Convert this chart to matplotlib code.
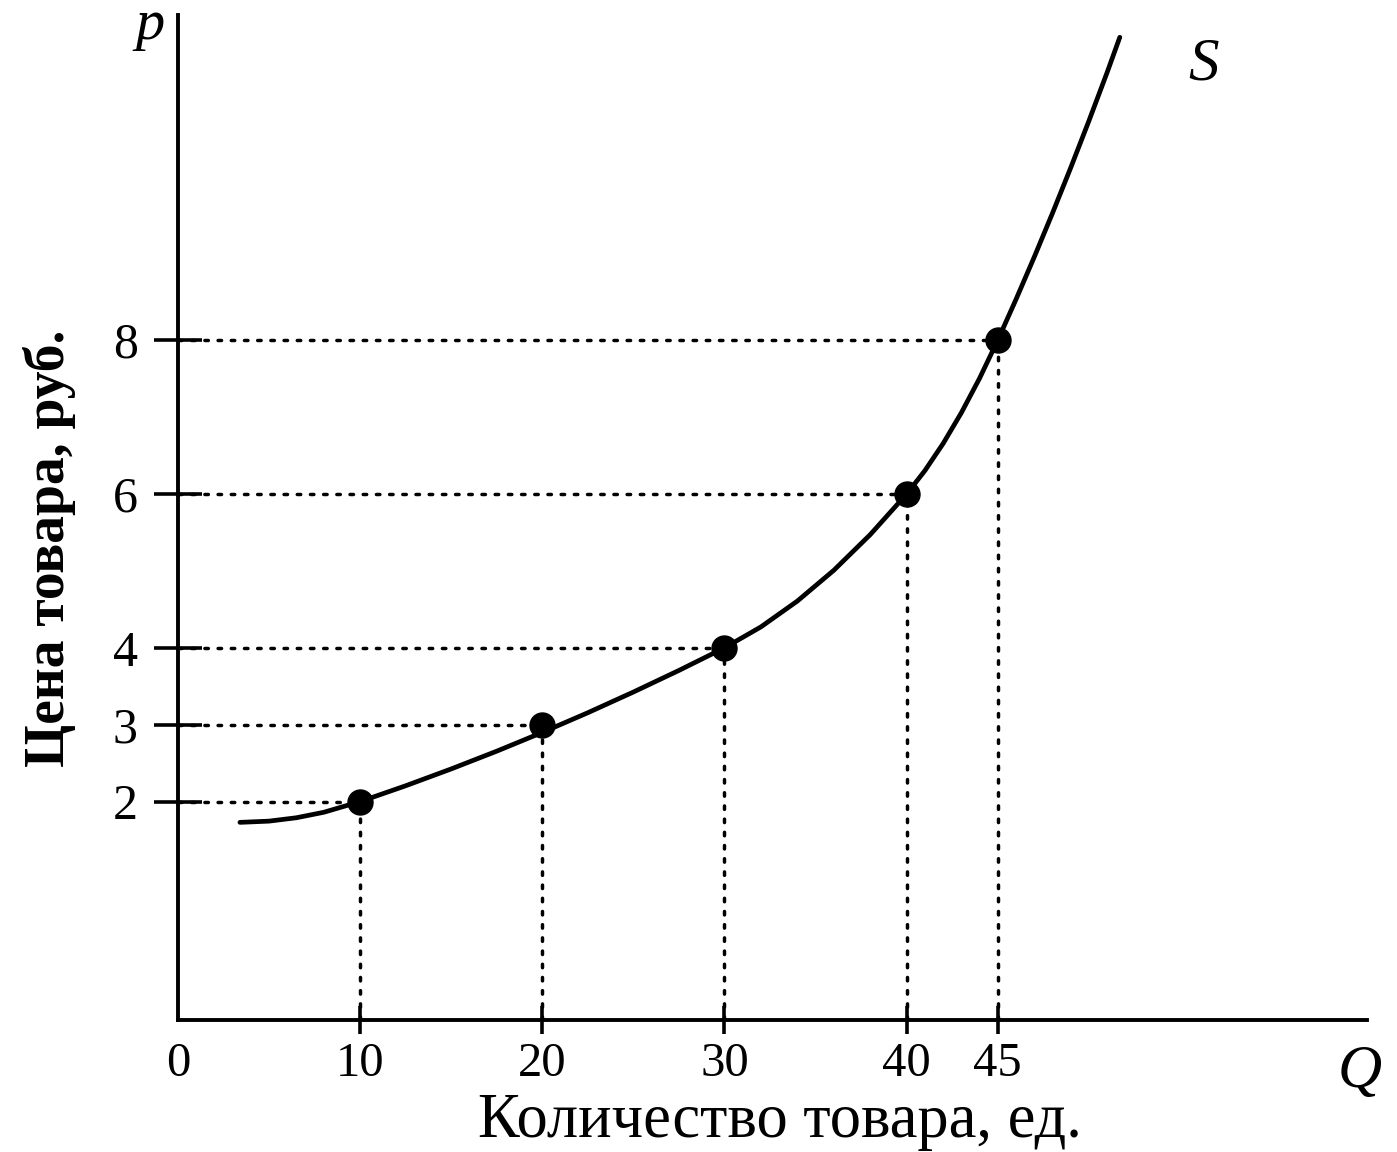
import matplotlib
matplotlib.use("Agg")
import matplotlib.pyplot as plt

# точки предложения (количество, цена)
q_points = [10, 20, 30, 40, 45]
p_points = [2, 3, 4, 6, 8]

# кривая S
curve_q = [3.4, 5, 6.5, 8, 10, 12.5, 15, 17.5, 20, 22.5, 25, 27.5, 30, 32, 34, 36, 38,
           40, 41, 42, 43, 44, 45, 46, 47, 48, 49, 50, 51, 51.7]
curve_p = [1.73, 1.746, 1.79, 1.861, 2.0, 2.206, 2.425, 2.656, 2.9, 3.156, 3.425, 3.706,
           4.0, 4.272, 4.608, 5.008, 5.472, 6.0, 6.304, 6.656, 7.056, 7.504, 8.0, 8.53,
           9.08, 9.65, 10.24, 10.85, 11.48, 11.94]

x_ticks = [0, 10, 20, 30, 40, 45]
y_ticks = [2, 3, 4, 6, 8]

x_lim = (0, 65.26)
y_lim = (-0.84, 12.23)

plt.rcParams['font.family'] = ['Liberation Serif', 'DejaVu Serif']

fig = plt.figure(figsize=(13.97, 11.52), dpi=100)
ax = fig.add_axes([0.1274, 0.1146, 0.851, 0.8724])
ax.set_xlim(*x_lim)
ax.set_ylim(*y_lim)

for s in ['top', 'right']:
    ax.spines[s].set_visible(False)
for s in ['left', 'bottom']:
    ax.spines[s].set_linewidth(2.8)

# пунктирные проекции
dots = (0, (1, 2.8))
for q, p in zip(q_points, p_points):
    ax.plot([0, q], [p, p], color='black', lw=2.5, linestyle=dots, dash_capstyle='round')
    ax.plot([q, q], [y_lim[0], p], color='black', lw=2.5, linestyle=dots, dash_capstyle='round')

ax.plot(curve_q, curve_p, color='black', lw=3.4, solid_capstyle='round',
        solid_joinstyle='round')
ax.plot(q_points, p_points, 'o', color='black', markersize=18, zorder=5)

ax.set_xticks(x_ticks)
ax.set_yticks(y_ticks)
ax.tick_params(axis='y', direction='inout', length=34, width=2.6, labelsize=36, pad=12)
ax.tick_params(axis='x', direction='inout', length=20, width=2.6, labelsize=35, pad=6)
ax.xaxis.get_major_ticks()[0].tick1line.set_visible(False)

ax.set_xlabel('Количество товара, ед.', fontsize=45, va='center')
ax.xaxis.set_label_coords(0.506, -0.102)
ax.set_ylabel('Цена товара, руб.', fontsize=40, fontweight='bold', va='center')
ax.yaxis.set_label_coords(-0.1077, 0.4697)

ax.text(-0.0235, 0.99, 'p', transform=ax.transAxes, fontsize=42, style='italic',
        ha='center', va='center')
ax.text(0.994, -0.052, 'Q', transform=ax.transAxes, fontsize=44, style='italic',
        ha='center', va='center')
ax.text(56.3, 11.58, 'S', fontsize=44, style='italic', ha='center', va='center')

fig.savefig('out.png', dpi=100)
